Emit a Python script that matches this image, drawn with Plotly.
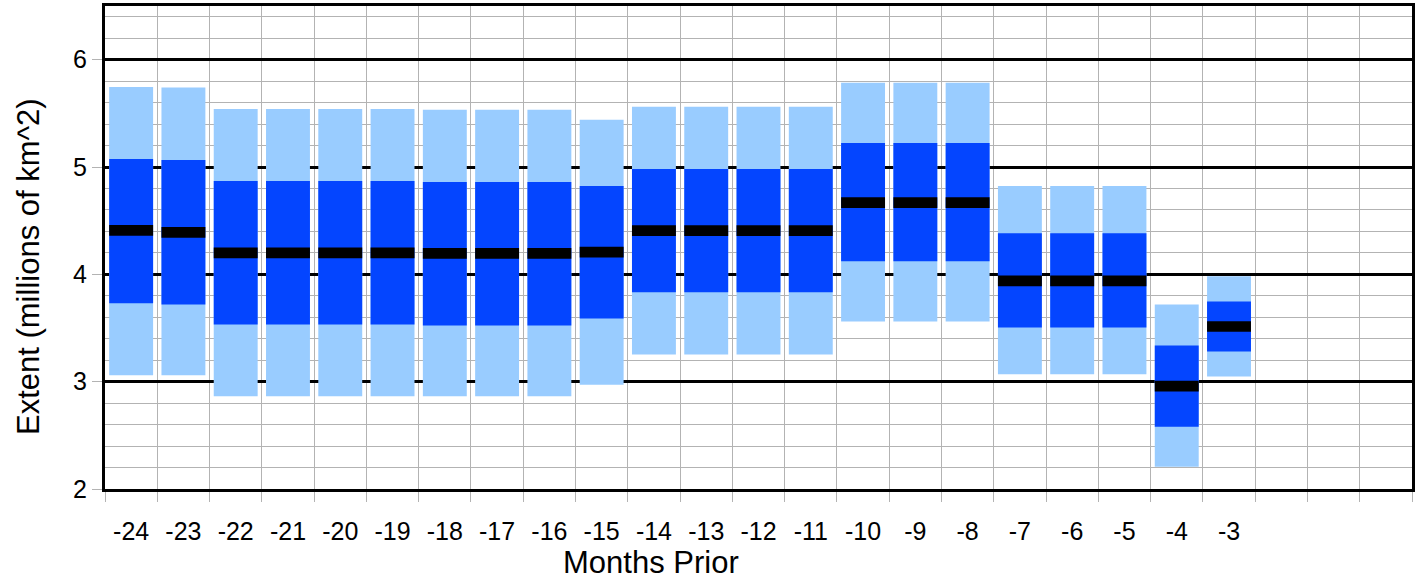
import plotly.graph_objects as go

# Data (millions of km^2)
months = [-24, -23, -22, -21, -20, -19, -18, -17, -16, -15, -14, -13,
          -12, -11, -10, -9, -8, -7, -6, -5, -4, -3]
outer_max = [5.745, 5.74, 5.54, 5.54, 5.54, 5.54, 5.533, 5.533, 5.533, 5.44, 5.561, 5.561,
             5.561, 5.561, 5.785, 5.785, 5.785, 4.822, 4.822, 4.822, 3.72, 3.981]
inner_max = [5.075, 5.065, 4.869, 4.869, 4.869, 4.869, 4.86, 4.86, 4.86, 4.822, 4.981, 4.981,
             4.981, 4.981, 5.224, 5.224, 5.224, 4.383, 4.383, 4.383, 3.336, 3.748]
median = [4.41, 4.39, 4.201, 4.201, 4.201, 4.201, 4.196, 4.196, 4.196, 4.206, 4.407, 4.407,
          4.407, 4.407, 4.668, 4.668, 4.668, 3.939, 3.939, 3.939, 2.958, 3.514]
inner_min = [3.73, 3.72, 3.533, 3.533, 3.533, 3.533, 3.523, 3.523, 3.523, 3.589, 3.832, 3.832,
             3.832, 3.832, 4.121, 4.121, 4.121, 3.505, 3.505, 3.505, 2.579, 3.28]
outer_min = [3.06, 3.06, 2.863, 2.863, 2.863, 2.863, 2.863, 2.863, 2.863, 2.972, 3.252, 3.252,
             3.252, 3.252, 3.561, 3.561, 3.561, 3.068, 3.068, 3.068, 2.208, 3.047]
axis_months = list(range(-24, 1))
tick_labels = [str(m) if m <= -3 else "" for m in axis_months]

MEDIAN_BAND = 0.1
BAR_W = 0.84
LIGHT = "#99ccff"
DARK = "#0445ff"

fig = go.Figure()
fig.add_trace(go.Bar(x=months, base=outer_min,
                     y=[a - b for a, b in zip(outer_max, outer_min)],
                     width=BAR_W, marker=dict(color=LIGHT, line=dict(width=0)),
                     name="range", showlegend=False))
fig.add_trace(go.Bar(x=months, base=inner_min,
                     y=[a - b for a, b in zip(inner_max, inner_min)],
                     width=BAR_W, marker=dict(color=DARK, line=dict(width=0)),
                     name="inner", showlegend=False))
fig.add_trace(go.Bar(x=months, base=[m - MEDIAN_BAND / 2 for m in median],
                     y=[MEDIAN_BAND] * len(median),
                     width=BAR_W, marker=dict(color="black", line=dict(width=0)),
                     name="median", showlegend=False))

FONT = "Liberation Sans, Arial, sans-serif"
fig.update_layout(
    width=1419, height=579,
    margin=dict(l=105, r=7, t=6, b=90),
    paper_bgcolor="white", plot_bgcolor="white",
    barmode="overlay",
    font=dict(family=FONT, color="black", size=25),
    annotations=[
        dict(text="Months Prior", xref="paper", yref="paper",
             x=0.4178, y=-0.153, xanchor="center", yanchor="middle",
             showarrow=False, font=dict(size=31, family=FONT, color="black")),
        dict(text="Extent (millions of km^2)", xref="paper", yref="paper",
             x=-0.0589, y=0.4596, xanchor="center", yanchor="middle", textangle=-90,
             showarrow=False, font=dict(size=31, family=FONT, color="black")),
    ],
)
fig.update_xaxes(
    range=[-24.5, 0.5], automargin=False,
    tickmode="array", tickvals=axis_months, ticktext=tick_labels,
    ticks="", showgrid=False, ticklabelstandoff=18,
    tickfont=dict(size=25, family=FONT),
    minor=dict(tickvals=[m - 0.5 for m in axis_months] + [0.5],
               ticks="outside", ticklen=10, tickcolor="#b3b3b3", tickwidth=1,
               showgrid=True, gridcolor="#b3b3b3", gridwidth=1),
    showline=True, linecolor="black", linewidth=3, mirror=True,
    zeroline=False,
)
fig.update_yaxes(
    range=[2, 6.5], dtick=1, tick0=0, automargin=False,
    ticks="outside", ticklen=10, tickcolor="#b3b3b3", tickwidth=1,
    showgrid=True, gridcolor="black", gridwidth=3,
    minor=dict(dtick=0.2, tick0=0, showgrid=True, gridcolor="#b3b3b3", gridwidth=1),
    tickfont=dict(size=25, family=FONT),
    showline=True, linecolor="black", linewidth=3, mirror=True,
    zeroline=False,
)

fig.write_html("out.html", config={"displayModeBar": False},
               post_script="document.body.style.margin='0';")
